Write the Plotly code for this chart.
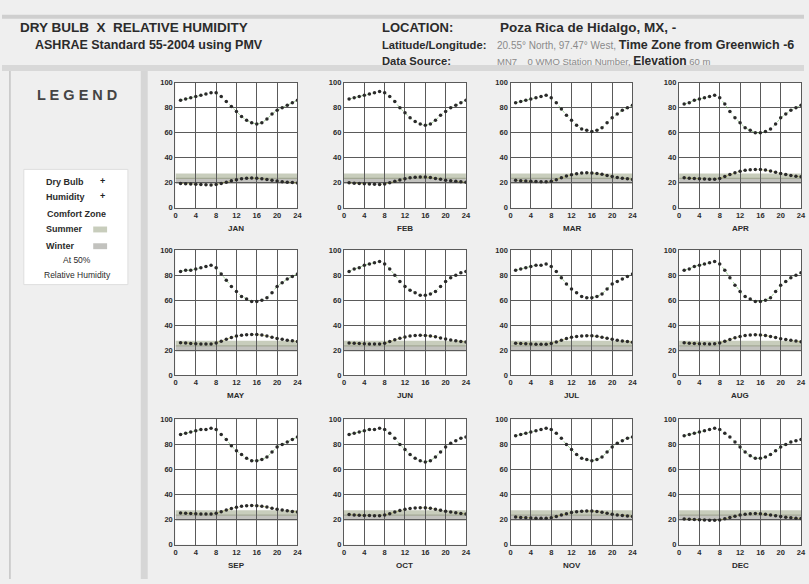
import plotly.graph_objects as go

# ---- data -----------------------------------------------------------------
months = ["JAN", "FEB", "MAR", "APR", "MAY", "JUN",
          "JUL", "AUG", "SEP", "OCT", "NOV", "DEC"]
hours = list(range(1, 25))
x_ticks = [0, 4, 8, 12, 16, 20, 24]
y_ticks = [0, 20, 40, 60, 80, 100]

humidity = {
    "JAN": [86, 87, 88, 89, 90, 91, 92, 92, 89, 85, 81, 77, 73, 70, 68, 67, 68, 71, 75, 78, 80, 82, 84, 86],
    "FEB": [87, 88, 89, 90, 91, 92, 93, 92, 89, 85, 80, 76, 72, 69, 67, 66, 67, 70, 74, 77, 80, 82, 84, 86],
    "MAR": [84, 85, 86, 87, 88, 89, 90, 88, 84, 79, 74, 70, 66, 63, 62, 61, 62, 64, 68, 72, 75, 78, 80, 82],
    "APR": [83, 84, 86, 87, 88, 89, 90, 88, 83, 77, 72, 68, 64, 62, 60, 60, 61, 63, 67, 72, 75, 78, 80, 82],
    "MAY": [83, 84, 84, 85, 86, 87, 88, 86, 81, 76, 71, 67, 63, 61, 59, 59, 60, 62, 66, 71, 74, 77, 79, 81],
    "JUN": [83, 85, 86, 88, 89, 90, 91, 89, 85, 80, 75, 71, 68, 66, 64, 64, 65, 67, 71, 75, 78, 80, 82, 83],
    "JUL": [84, 85, 86, 87, 88, 88, 89, 87, 83, 78, 73, 69, 66, 63, 62, 62, 63, 65, 69, 73, 75, 77, 79, 81],
    "AUG": [84, 85, 87, 88, 89, 90, 91, 89, 84, 78, 72, 67, 63, 61, 59, 59, 60, 62, 67, 72, 75, 78, 80, 82],
    "SEP": [88, 89, 90, 91, 92, 92, 93, 92, 88, 84, 79, 75, 72, 69, 67, 67, 68, 70, 74, 78, 80, 82, 84, 86],
    "OCT": [88, 89, 90, 91, 92, 92, 93, 92, 89, 85, 80, 76, 72, 69, 67, 66, 67, 70, 74, 78, 81, 83, 85, 86],
    "NOV": [87, 88, 89, 90, 91, 92, 93, 92, 89, 85, 80, 76, 72, 69, 68, 67, 68, 70, 74, 78, 81, 83, 85, 86],
    "DEC": [87, 88, 89, 90, 91, 92, 93, 92, 89, 86, 82, 78, 74, 71, 69, 69, 70, 72, 75, 78, 80, 82, 83, 84],
}

dry_bulb = {
    "JAN": [19.5, 19.2, 19.0, 18.8, 18.6, 18.4, 18.3, 18.6, 19.4, 20.5, 21.6, 22.5, 23.2, 23.6, 23.8, 23.7, 23.3, 22.7, 22.0, 21.4, 20.9, 20.5, 20.2, 19.9],
    "FEB": [20.0, 19.7, 19.4, 19.2, 19.0, 18.8, 18.7, 19.0, 20.0, 21.2, 22.3, 23.3, 24.0, 24.5, 24.7, 24.6, 24.2, 23.5, 22.8, 22.1, 21.6, 21.2, 20.8, 20.4],
    "MAR": [22.0, 21.7, 21.4, 21.2, 21.0, 20.8, 20.8, 21.3, 22.5, 24.0, 25.4, 26.5, 27.3, 27.8, 28.0, 27.9, 27.5, 26.8, 25.9, 25.0, 24.3, 23.7, 23.2, 22.7],
    "APR": [24.0, 23.7, 23.4, 23.2, 23.0, 22.8, 22.9, 23.5, 25.0, 26.6, 28.0, 29.2, 30.0, 30.5, 30.7, 30.6, 30.2, 29.4, 28.4, 27.4, 26.6, 25.9, 25.3, 24.8],
    "MAY": [26.0, 25.7, 25.4, 25.2, 25.0, 24.9, 25.0, 25.8, 27.2, 28.8, 30.2, 31.3, 32.0, 32.4, 32.6, 32.5, 32.1, 31.3, 30.3, 29.4, 28.7, 28.0, 27.5, 27.0],
    "JUN": [25.8, 25.5, 25.3, 25.1, 25.0, 24.9, 25.0, 25.6, 26.9, 28.3, 29.6, 30.6, 31.3, 31.7, 31.9, 31.8, 31.4, 30.7, 29.8, 28.9, 28.2, 27.6, 27.0, 26.5],
    "JUL": [25.6, 25.3, 25.1, 24.9, 24.8, 24.7, 24.8, 25.4, 26.6, 28.0, 29.3, 30.3, 31.0, 31.4, 31.6, 31.5, 31.1, 30.4, 29.5, 28.7, 28.0, 27.4, 26.9, 26.4],
    "AUG": [25.9, 25.6, 25.4, 25.2, 25.1, 25.0, 25.1, 25.8, 27.1, 28.6, 30.0, 31.0, 31.7, 32.1, 32.3, 32.2, 31.8, 31.0, 30.1, 29.2, 28.5, 27.9, 27.3, 26.8],
    "SEP": [25.3, 25.0, 24.8, 24.6, 24.5, 24.4, 24.5, 25.0, 26.2, 27.6, 28.9, 29.9, 30.6, 31.0, 31.2, 31.1, 30.7, 30.0, 29.1, 28.3, 27.6, 27.0, 26.5, 26.0],
    "OCT": [24.0, 23.7, 23.5, 23.3, 23.2, 23.1, 23.1, 23.6, 24.7, 26.0, 27.2, 28.2, 28.9, 29.3, 29.5, 29.4, 29.0, 28.3, 27.4, 26.6, 26.0, 25.4, 24.9, 24.5],
    "NOV": [22.0, 21.7, 21.5, 21.3, 21.1, 21.0, 21.0, 21.4, 22.4, 23.6, 24.7, 25.6, 26.3, 26.7, 26.9, 26.8, 26.4, 25.8, 25.0, 24.3, 23.7, 23.2, 22.8, 22.4],
    "DEC": [20.5, 20.2, 20.0, 19.8, 19.6, 19.5, 19.4, 19.7, 20.6, 21.7, 22.7, 23.6, 24.2, 24.6, 24.8, 24.7, 24.3, 23.7, 23.0, 22.4, 21.9, 21.5, 21.1, 20.8],
}

# ASHRAE comfort zone temperature limits at 50% RH (deg C)
comfort_summer = [23.0, 27.5]
comfort_winter = [19.0, 24.0]

# ---- page geometry (pixels) ----------------------------------------------
W, H = 809, 584
col_left = [175, 345, 513, 683]
row_top = [80, 250, 422]
pw, ph = 123, 127


def px(x):
    return x / W


def py(y):
    return 1 - y / H


BG = "#efefef"
GRID = "#5a5a5a"
TXT = "#2b2b2b"
FONT = "Liberation Sans, Arial, sans-serif"
SUMMER_FILL = "rgba(125,135,95,0.42)"
WINTER_FILL = "rgba(110,110,100,0.42)"

fig = go.Figure()
layout = dict(
    width=W, height=H, margin=dict(l=0, r=0, t=0, b=0),
    paper_bgcolor=BG, plot_bgcolor="white", showlegend=False,
    font=dict(family=FONT, color=TXT),
)
shapes = []
annotations = []

for i, m in enumerate(months):
    r, c = divmod(i, 4)
    n = "" if i == 0 else str(i + 1)
    xa, ya = "x" + n, "y" + n
    x0 = col_left[c]
    y0 = row_top[r]
    layout["xaxis" + n] = dict(
        domain=[px(x0), px(x0 + pw)], anchor=ya, range=[0, 24],
        tickvals=x_ticks, ticktext=[str(v) for v in x_ticks],
        showgrid=True, gridcolor=GRID, gridwidth=1.4,
        showline=True, linecolor=GRID, linewidth=1.4, mirror=True,
        zeroline=False, ticks="", ticklen=0,
        tickfont=dict(size=7.5, color=TXT, weight="bold"), fixedrange=True,
    )
    layout["yaxis" + n] = dict(
        domain=[py(y0 + ph), py(y0)], anchor=xa, range=[0, 100],
        tickvals=y_ticks, ticktext=[str(v) for v in y_ticks],
        showgrid=True, gridcolor=GRID, gridwidth=1.4,
        showline=True, linecolor=GRID, linewidth=1.4, mirror=True,
        zeroline=False, ticks="", ticklen=0,
        tickfont=dict(size=7.5, color=TXT, weight="bold"), fixedrange=True,
    )
    # comfort zone bands
    for lo_hi, col in ((comfort_winter, WINTER_FILL),
                       (comfort_summer, SUMMER_FILL)):
        shapes.append(dict(type="rect", xref=xa, yref=ya, x0=0, x1=24,
                           y0=lo_hi[0], y1=lo_hi[1], fillcolor=col,
                           line=dict(width=0), layer="below"))
    # humidity
    fig.add_trace(go.Scatter(
        x=hours, y=humidity[m], xaxis=xa, yaxis=ya, mode="lines+markers",
        line=dict(color="rgba(90,170,70,0.55)", width=1, dash="dot"),
        marker=dict(color="#2a2a2a", size=3.5),
    ))
    # dry bulb
    fig.add_trace(go.Scatter(
        x=hours, y=dry_bulb[m], xaxis=xa, yaxis=ya, mode="lines+markers",
        line=dict(color="rgba(170,170,60,0.55)", width=1, dash="dot"),
        marker=dict(color="#2a2a2a", size=3.5),
    ))
    annotations.append(dict(
        text=m, x=px(x0 + pw / 2), y=py(y0 + ph + 21), xref="paper",
        yref="paper", xanchor="center", yanchor="middle", showarrow=False,
        font=dict(size=8, color=TXT, weight="bold"),
    ))

# ---- header and side panel frames ----------------------------------------
shapes += [
    dict(type="rect", xref="paper", yref="paper", x0=px(0), x1=px(W),
         y0=py(15), y1=py(11), fillcolor="#cfcfcf", line=dict(width=0)),
    dict(type="rect", xref="paper", yref="paper", x0=px(0), x1=px(W),
         y0=py(68), y1=py(62), fillcolor="#d8d8d8", line=dict(width=0)),
    dict(type="line", xref="paper", yref="paper", x0=px(8), x1=px(8),
         y0=py(68), y1=py(H), line=dict(color="#c4c4c4", width=1.5)),
    dict(type="rect", xref="paper", yref="paper", x0=px(140), x1=px(147),
         y0=py(H), y1=py(68), fillcolor="#d6d6d6", line=dict(width=0)),
    # legend box
    dict(type="rect", xref="paper", yref="paper", x0=px(22), x1=px(127),
         y0=py(285), y1=py(168), fillcolor="white",
         line=dict(color="#dedede", width=1)),
    # summer / winter swatches
    dict(type="rect", xref="paper", yref="paper", x0=px(92), x1=px(106),
         y0=py(232), y1=py(226), fillcolor=SUMMER_FILL, line=dict(width=0)),
    dict(type="rect", xref="paper", yref="paper", x0=px(92), x1=px(106),
         y0=py(249), y1=py(243), fillcolor=WINTER_FILL, line=dict(width=0)),
]


def label(text, x, y, size, anchor="left", color=TXT, bold=True):
    annotations.append(dict(
        text=text, x=px(x), y=py(y), xref="paper", yref="paper",
        xanchor=anchor, yanchor="middle", showarrow=False,
        font=dict(size=size, color=color, weight="bold" if bold else "normal"),
    ))


label("DRY BULB  X  RELATIVE HUMIDITY", 16, 24, 13.5)
label("ASHRAE Standard 55-2004 using PMV", 31, 42, 12.5)
label("LOCATION:", 381, 24, 13)
label("Poza Rica de Hidalgo, MX, -", 500, 24, 13.5)
label("Latitude/Longitude:", 381, 42, 11.2)
label("Data Source:", 381, 58, 11.2)
label("20.55° North, 97.47° West, "
      "<b style='color:#2b2b2b;font-size:12.5px'>Time Zone from Greenwich -6</b>",
      497, 42, 10, color="#8a8a8a", bold=False)
label("MN7    0 WMO Station Number, "
      "<b style='color:#2b2b2b;font-size:12px'>Elevation</b> 60 m",
      497, 58, 9.5, color="#8a8a8a", bold=False)

label("L E G E N D", 76, 92, 14.5, anchor="center", color="#444")
label("Dry Bulb", 42, 181, 9)
label("+", 101, 180, 9, anchor="center", color="#222")
label("Humidity", 42, 196, 9)
label("+", 101, 195, 9, anchor="center", color="#222")
label("Comfort Zone", 75, 213, 9, anchor="center")
label("Summer", 42, 229, 9)
label("Winter", 42, 246, 9)
label("At 50%", 76, 260, 8.5, anchor="center", bold=False)
label("Relative Humidity", 76, 275, 8.5, anchor="center", bold=False)

layout["shapes"] = shapes
layout["annotations"] = annotations
fig.update_layout(**layout)
fig.write_html("out.html")
